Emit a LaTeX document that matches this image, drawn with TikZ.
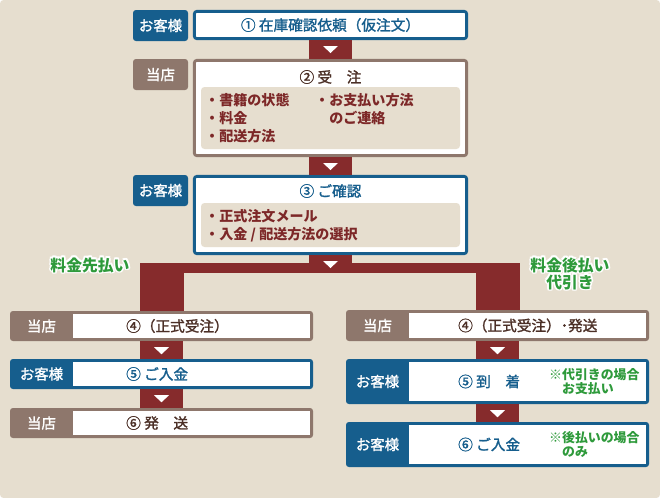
\documentclass[tikz,border=0pt]{standalone}
\usepackage{fontspec}
\setmainfont{Noto Sans CJK JP}
\newfontfamily\medfont{Noto Sans CJK JP}[FakeBold=1.5]
\usetikzlibrary{calc}
\definecolor{paper}{RGB}{230,222,207}
\definecolor{custblue}{RGB}{22,94,141}
\definecolor{shopbrown}{RGB}{142,119,108}
\definecolor{flowred}{RGB}{134,43,44}
\definecolor{itemred}{RGB}{125,40,40}
\definecolor{darktext}{RGB}{75,47,38}
\definecolor{notegreen}{RGB}{46,154,59}

\begin{document}
\begin{tikzpicture}[x=0.03cm, y=-0.03cm, font=\medfont\fontsize{12.5}{15}\selectfont,
		whotext/.style={text=white, inner sep=0pt, font=\medfont\fontsize{12.3}{15}\selectfont},
		whobox/.style={whotext, rounded corners=2.5pt},
		cust row/.style={fill=custblue}, shop row/.style={fill=shopbrown},
		cust text/.style={text=custblue, inner sep=0pt}, shop text/.style={text=darktext, inner sep=0pt},
		stepbox/.style={fill=white, line width=2.4pt, rounded corners=2pt, inner sep=0pt},
		listbox/.style={fill=paper, rounded corners=3pt, inner sep=0pt},
		listitem/.style={anchor=west, inner sep=0pt, align=left, text=itemred, font=\bfseries\fontsize{12}{15.2}\selectfont},
		paylabel/.style={inner sep=0pt, align=center, font=\bfseries\fontsize{13.5}{14.5}\selectfont},
		paynote/.style={anchor=west, inner sep=0pt, align=left, text=notegreen, font=\bfseries\fontsize{11}{12}\selectfont},
		flowbar/.style={fill=flowred}]
		\def\px{0.03cm}
		% box from corner (#2,#3) to corner (#4,#5), style #6
		\newcommand{\pbox}[7]{
			\node[#6, minimum width={((#4)-(#2))*\px}, minimum height={((#5)-(#3))*\px}] (#1) at ({((#2)+(#4))/2},{((#3)+(#5))/2}) {#7};}
		% lower rows: name, left x, top y, bottom y, who, label, step text, text x
		\newcommand{\flowrow}[8]{
			\pbox{#1}{#2}{#3}{#2+303}{#4}{#5 row, rounded corners=2.5pt, inner sep=0pt}{}
			\pbox{#1w}{#2+63}{#3+2.7}{#2+300.3}{#4-2.7}{fill=white, inner sep=0pt}{}
			\node[whotext] (#1l) at ({#2+31.5},{((#3)+(#4))/2}) {#6};
			\node[#5 text, anchor=west] (#1t) at (#8,{((#3)+(#4))/2}) {#7};}
		% white triangle under a box
		\newcommand{\tri}[1]{
			\fill[white] ($(#1.south)+(-7.5,6)$) -- ++(15,0) -- ++(-7.5,7) -- cycle;}
		% green text with white rim
		\newcommand{\halotext}[3]{
			\foreach \dx/\dy [count=\k] in {1.6/0,-1.6/0,0/1.6,0/-1.6,1.1/1.1,1.1/-1.1,-1.1/1.1,-1.1/-1.1}
				\node[paylabel, text=white] (#1h\k) at ($#2+(\dx,\dy)$) {#3};
			\node[paylabel, text=notegreen] (#1) at #2 {#3};}
		% paper
		\useasboundingbox (0,0) rectangle (660,498);
		\fill[paper, rounded corners=3pt] (0,0) rectangle (660,498);
		%%% top: request, order, confirmation
		\pbox{cust1}{133}{10}{188}{41}{whobox, cust row}{お客様}
		\pbox{req}{194.4}{11.4}{466.6}{38.6}{stepbox, draw=custblue, cust text}{① 在庫確認依頼（仮注文）}
		\pbox{shop2}{133}{59}{188}{90}{whobox, shop row}{当店}
		\pbox{order}{194.4}{60.4}{466.6}{155.6}{stepbox, draw=shopbrown}{}
		\node[shop text] (ordertitle) at (330.5,77) {② 受　注};
		\pbox{orderlist}{201}{87}{460}{149}{listbox}{}
		\node[listitem] (orderitemsa) at (205,118) {・書籍の状態\\・料金\\・配送方法};
		\node[listitem] (orderitemsb) at (315,109) {・お支払い方法\\\phantom{・}のご連絡};
		\pbox{cust3}{133}{175}{188}{206}{whobox, cust row}{お客様}
		\pbox{confirm}{194.4}{176.4}{466.6}{253.6}{stepbox, draw=custblue}{}
		\node[cust text] (confirmtitle) at (330.5,191) {③ ご確認};
		\pbox{confirmlist}{201}{203}{460}{247}{listbox}{}
		\node[listitem] (confirmitems) at (205,225.5) {・正式注文メール\\・入金 / 配送方法の選択};
		%%% left: pay first
		\flowrow{prepay4}{10}{311}{341}{shop}{当店}{④（正式受注）}{126}
		\flowrow{prepay5}{10}{359}{389}{cust}{お客様}{⑤ ご入金}{126}
		\flowrow{prepay6}{10}{408}{438}{shop}{当店}{⑥ 発　送}{126}
		%%% right: pay later / cash on delivery
		\flowrow{postpay4}{346}{310}{341}{shop}{当店}{④（正式受注）･発送}{458}
		\flowrow{postpay5}{346}{359}{404}{cust}{お客様}{⑤ 到　着}{458}
		\flowrow{postpay6}{346}{422}{467}{cust}{お客様}{⑥ ご入金}{458}
		\node[paynote] (codnote) at (549,381.5) {※代引きの場合\\\phantom{※}お支払い};
		\node[paynote] (laternote) at (549,444.5) {※後払いの場合\\\phantom{※}のみ};
		% connectors
		\coordinate (fork) at (330.5,263);
		\fill[flowbar] ($(fork)+(-190.5,0)$) rectangle ($(fork)+(189.5,10)$);
		\fill[flowbar] ($(confirm.south)+(-21.5,0)$) rectangle ($(fork)+(21.5,10)$);
		\fill[flowbar] ($(prepay4.north |- fork)+(-22,0)$) rectangle ($(prepay4.north)+(22,0)$);
		\fill[flowbar] ($(postpay4.north |- fork)+(-22,0)$) rectangle ($(postpay4.north)+(22,0)$);
		\foreach \a/\b in {req/order, order/confirm, prepay4/prepay5, prepay5/prepay6, postpay4/postpay5, postpay5/postpay6}
			\fill[flowbar] ($(\a.south)+(-21.5,0)$) rectangle ($(\b.north)+(21.5,0)$);
		\foreach \n in {req, order, confirm, prepay4, prepay5, postpay4, postpay5}
			{\tri{\n}}
		% payment labels
		\halotext{prepaid}{(90,265)}{料金先払い}
		\halotext{postpaid}{(570,273.5)}{料金後払い\\代引き}
	\end{tikzpicture}
\end{document}
